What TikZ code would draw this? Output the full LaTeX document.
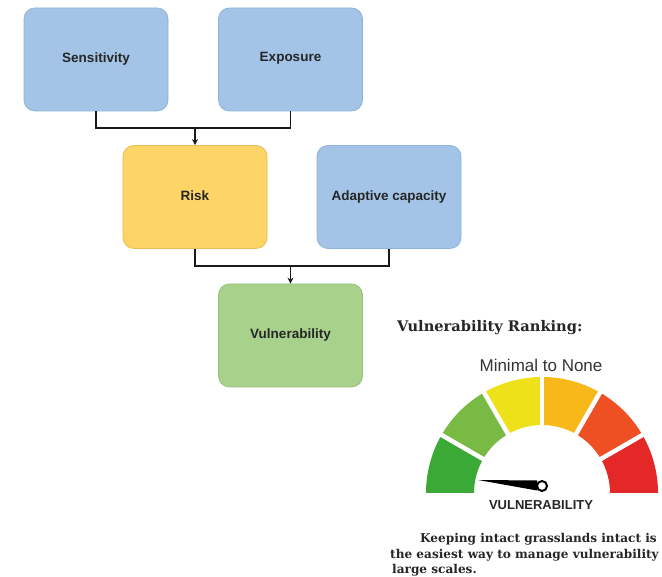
\documentclass[tikz,border=0pt]{standalone}
\usepackage{fontspec}
\setmainfont{Liberation Sans}
\newfontfamily\slabfont{DejaVu Serif}
\usetikzlibrary{arrows.meta}
\definecolor{boxblue}{HTML}{A3C4E6}
\definecolor{boxblueline}{HTML}{8EB2D8}
\definecolor{boxyellow}{HTML}{FDD466}
\definecolor{boxyellowline}{HTML}{E9BC55}
\definecolor{boxgreen}{HTML}{A8D18C}
\definecolor{boxgreenline}{HTML}{93C27A}
\definecolor{gA}{HTML}{3AA935}
\definecolor{gB}{HTML}{78BA43}
\definecolor{gC}{HTML}{EEE11A}
\definecolor{gD}{HTML}{F8B819}
\definecolor{gE}{HTML}{EE5024}
\definecolor{gF}{HTML}{E42828}
\tikzset{
  factor/.style={rectangle, rounded corners=11pt, minimum width=144pt, minimum height=103pt, inner sep=0pt, line width=0.8pt, font=\fontsize{13.5}{15}\selectfont\bfseries, text=black!85},
  bluebox/.style={factor, fill=boxblue, draw=boxblueline},
  yellowbox/.style={factor, fill=boxyellow, draw=boxyellowline},
  greenbox/.style={factor, fill=boxgreen, draw=boxgreenline},
  link/.style={line width=1.6pt, black!90},
  arrowlink/.style={link, -{Stealth[length=6pt,width=6pt]}},
  caption/.style={anchor=west, inner sep=0pt, font=\slabfont\bfseries\fontsize{12.1}{14}\selectfont, text=black!85}
}
\begin{document}
\begin{tikzpicture}[x=1pt,y=1pt]
\useasboundingbox (0,0) rectangle (662,577);
% boxes
\node[bluebox] (sens) at (96,517.5) {Sensitivity};
\node[bluebox] (expo) at (290.5,517.5) {\raisebox{6pt}{Exposure}};
\node[yellowbox] (risk) at (195,380) {\raisebox{3pt}{Risk}};
\node[bluebox] (adap) at (389,380) {Adaptive capacity};
\node[greenbox] (vuln) at (290.5,241.5) {\raisebox{4pt}{Vulnerability}};
% connectors
\coordinate (j1) at (195,449);
\coordinate (j2) at (290.5,311);
\draw[link] (sens.south) |- (j1) -| (expo.south);
\draw[arrowlink] (j1) -- (risk.north);
\draw[link] (risk.south) |- (j2) -| (adap.south);
\draw[arrowlink] (j2) -- (vuln.north);
% ranking title
\node[anchor=west, inner sep=0pt, font=\slabfont\bfseries\fontsize{14.6}{16}\selectfont, text=black!85] (rtitle) at (397,249) {Vulnerability Ranking:};
\node[inner sep=0pt, font=\fontsize{17}{19}\selectfont, text=black!80] (mtn) at (541,212) {Minimal to None};
% gauge
\begin{scope}[shift={(542,84)}]
  \foreach \a/\b/\c in {180/150/gA,150/120/gB,120/90/gC,90/60/gD,60/30/gE,30/0/gF}{
    \fill[\c] (\a:116) arc[start angle=\a,end angle=\b,radius=116] -- (\b:68) arc[start angle=\b,end angle=\a,radius=68] -- cycle;
  }
  \foreach \a in {150,120,90,60,30}{
    \draw[white, line width=4.5pt] (\a:60) -- (\a:124);
  }
\end{scope}
% needle
\fill[black] (478,97) -- (537,96.5) -- (537,86.5) -- cycle;
\draw[black, line width=2pt, fill=white] (542,91) circle[radius=5pt];
\node[inner sep=0pt, font=\fontsize{13}{14}\selectfont\bfseries, text=black!85] (vlab) at (541,72) {VULNERABILITY};
% caption
\node[caption] (c1) at (420,38) {Keeping intact grasslands intact is};
\node[caption] (c2) at (390,22) {the easiest way to manage vulnerability};
\node[caption] (c3) at (392,7) {large scales.};
\end{tikzpicture}
\end{document}
